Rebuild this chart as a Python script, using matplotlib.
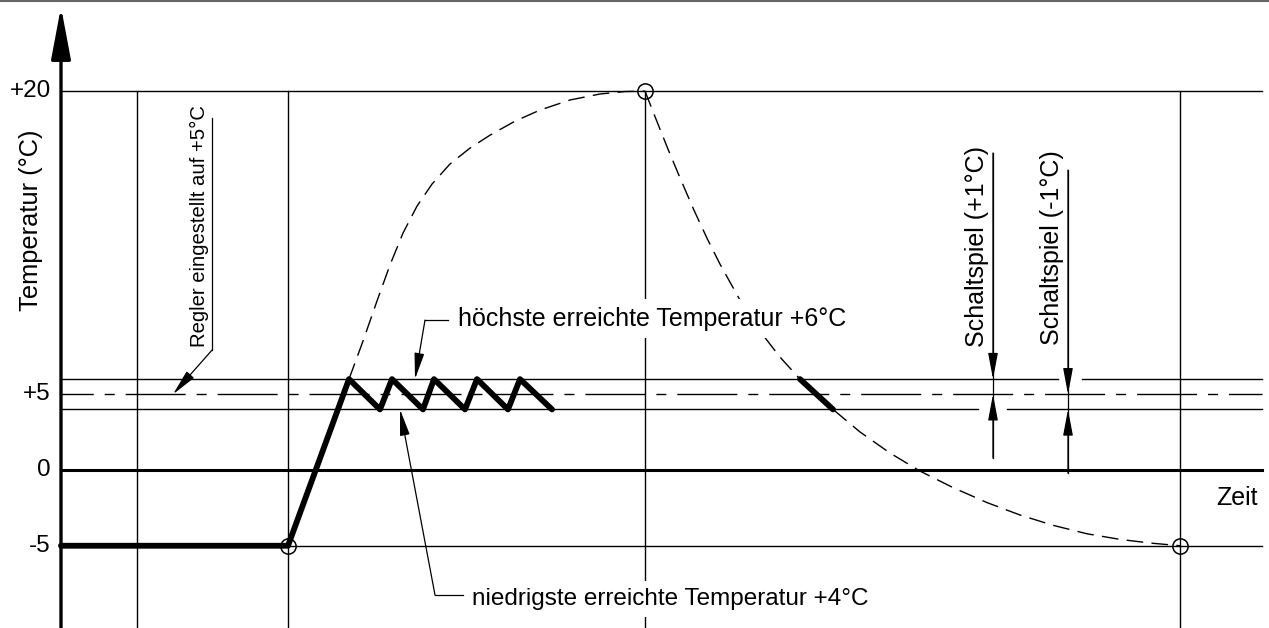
# encoding="utf-8"
# Zweipunktregler: Temperaturverlauf (Schema)

import numpy as np
import matplotlib.pyplot as plt

plt.rcParams['font.family'] = ['Liberation Sans', 'DejaVu Sans']

# Beschriftung der Temperaturachse
tick_vals = [20, 5, 0, -5]
tick_texts = ["+20", "+5", "0", "-5"]

# senkrechte Hilfslinien (Zeit, willkuerliche Einheiten)
grid_t = [137, 288, 645, 1180]

# Sollwert und Schaltgrenzen des Reglers
set_point = 5
upper_limit = 6
lower_limit = 4

# fett: Verlauf mit Regler (Aufheizen + Schaltspiel)
run_t = [61, 288, 349, 380, 392, 423, 434, 465, 477, 508, 520, 552]
run_T = [-5, -5, 6, 4, 6, 4, 6, 4, 6, 4, 6, 4]
run2_t = [800, 833]
run2_T = [6, 4]

# gestrichelt: Verlauf ohne Regler (Aufheizen bis +20, Abkuehlen bis -5)
rise_t = [349, 363, 377, 390, 403, 417, 432, 450, 470, 490, 515, 540, 570, 600, 625, 645]
rise_T = [6.0, 7.85, 9.8, 11.55, 13.1, 14.41, 15.48, 16.46, 17.23, 17.86, 18.54, 19.08,
          19.57, 19.86, 19.98, 20.0]
fall_t = [645, 655, 668, 681, 694, 707, 720, 740, 760, 780, 800, 833, 860, 890, 920, 953,
          987, 1020, 1053, 1087, 1120, 1150, 1180]
fall_T = [20.0, 18.76, 17.18, 15.67, 14.21, 12.85, 11.59, 9.84, 8.33, 7.07, 6.0, 4.0, 2.51,
          1.12, -0.07, -1.16, -2.15, -2.97, -3.65, -4.21, -4.58, -4.82, -5.0]

# markierte Punkte
point_t = [288, 645, 1180]
point_T = [-5, 20, -5]

# Achsen-Ursprung und rechtes Ende der Linien
T0 = 61
T_END = 1262

# Temperaturachse ist oberhalb +6 gestaucht gezeichnet
R = 1.358


def fwd(T):
    T = np.asarray(T, dtype=float)
    return np.where(T <= 6, T, 6 + (T - 6) * R)


def inv(v):
    v = np.asarray(v, dtype=float)
    return np.where(v <= 6, v, 6 + (v - 6) / R)


fig = plt.figure(figsize=(12.69, 6.28), dpi=100)
ax = fig.add_axes([0, 0, 1, 1])
ax.set_yscale('function', functions=(fwd, inv))
ax.set_xlim(0, 1269)
ax.set_ylim(-10.43, 24.43)
ax.axis('off')

# Rahmenlinie oben
fig.add_artist(plt.Line2D([0, 1], [0.999, 0.999], color='#666666', lw=1.5))

thin = dict(color='black', lw=1.0, zorder=1)

# senkrechte Linien
for t in grid_t:
    ax.plot([t, t], [-10.43, 20], **thin)

# waagerechte Linien
ax.plot([T0, T_END], [20, 20], **thin)
ax.plot([T0, 1058], [upper_limit, upper_limit], **thin)
ax.plot([1082, T_END], [upper_limit, upper_limit], **thin)
ax.plot([T0, 978], [lower_limit, lower_limit], **thin)
ax.plot([1007, T_END], [lower_limit, lower_limit], **thin)
ax.plot([T0, T_END], [set_point, set_point], color='black', lw=1.0, zorder=1,
        linestyle=(20, (43.2, 7.9, 7.2, 7.9)))
ax.plot([288, T_END], [-5, -5], **thin)
ax.plot([T0, T_END], [0, 0], color='black', lw=2.2, zorder=2)

# Temperaturachse mit Pfeil
ax.annotate('', xy=(T0, 24.1), xytext=(T0, -10.43),
            arrowprops=dict(arrowstyle='-|>,head_length=3.2,head_width=0.6',
                            color='black', lw=2.4, shrinkA=0, shrinkB=0,
                            mutation_scale=10), zorder=5)

# Verlauf ohne Regler
ax.plot(rise_t, rise_T, color='black', lw=1.0, dashes=(12, 6), zorder=2)
ax.plot(fall_t, fall_T, color='black', lw=1.0, dashes=(12, 6), zorder=2)

# Verlauf mit Regler
ax.plot(run_t, run_T, color='black', lw=4.2, solid_joinstyle='round',
        solid_capstyle='round', zorder=5)
ax.plot(run2_t, run2_T, color='black', lw=4.2, solid_capstyle='round', zorder=5)

ax.plot(point_t, point_T, 'o', ms=11, mfc='none', mec='black', mew=1.1, zorder=6)

# Achsenbeschriftung
for v, s in zip(tick_vals, tick_texts):
    ax.text(51, v, s, ha='right', va='center', fontsize=17.5)
ax.text(31, 13.73, "Temperatur (°C)", rotation=90, ha='center', va='center', fontsize=18.3)
ax.text(1258, -2.31, "Zeit", ha='right', va='baseline', fontsize=18)

arrow = dict(arrowstyle='-|>,head_length=1.6,head_width=0.3', color='black',
             lw=0.9, shrinkA=0, shrinkB=0, mutation_scale=10)

# Regler eingestellt auf +5
ax.text(199, 13.44, "Regler eingestellt auf +5°C", rotation=90, ha='center',
        va='center', fontsize=14.6)
ax.plot([212, 212], [18.69, 7.41], color='black', lw=0.9, zorder=4)
ax.annotate('', xy=(173, set_point), xytext=(212, 7.41), arrowprops=arrow, zorder=4)

# hoechste erreichte Temperatur
ax.text(458, 8.6, "höchste erreichte Temperatur +6°C", ha='left', va='baseline',
        fontsize=18, zorder=3,
        bbox=dict(boxstyle='square,pad=0.3', fc='white', ec='none'))
ax.plot([448, 425], [8.87, 8.87], color='black', lw=0.9, zorder=4)
ax.annotate('', xy=(415, upper_limit), xytext=(425, 8.87), arrowprops=arrow, zorder=4)

# niedrigste erreichte Temperatur
ax.text(472, -8.91, "niedrigste erreichte Temperatur +4°C", ha='left', va='baseline',
        fontsize=17.5, zorder=3,
        bbox=dict(boxstyle='square,pad=0.3', fc='white', ec='none'))
ax.plot([463, 435], [-8.25, -8.25], color='black', lw=0.9, zorder=4)
ax.annotate('', xy=(400, lower_limit), xytext=(435, -8.25), arrowprops=arrow, zorder=4)

# Schaltspiel +1
ax.text(977, 12.47, "Schaltspiel (+1°C)", rotation=90, ha='center', va='center', fontsize=18)
ax.plot([993, 993], [16.99, 0.79], color='black', lw=0.9, zorder=4)
ax.annotate('', xy=(993, upper_limit), xytext=(993, 16.99), arrowprops=arrow, zorder=4)
ax.annotate('', xy=(993, set_point), xytext=(993, 0.79), arrowprops=arrow, zorder=4)

# Schaltspiel -1
ax.text(1052, 12.4, "Schaltspiel (-1°C)", rotation=90, ha='center', va='center', fontsize=18)
ax.plot([1068, 1068], [16.16, -0.2], color='black', lw=0.9, zorder=4)
ax.annotate('', xy=(1068, set_point), xytext=(1068, 16.16), arrowprops=arrow, zorder=4)
ax.annotate('', xy=(1068, lower_limit), xytext=(1068, -0.2), arrowprops=arrow, zorder=4)

fig.savefig("out.png", dpi=100)
